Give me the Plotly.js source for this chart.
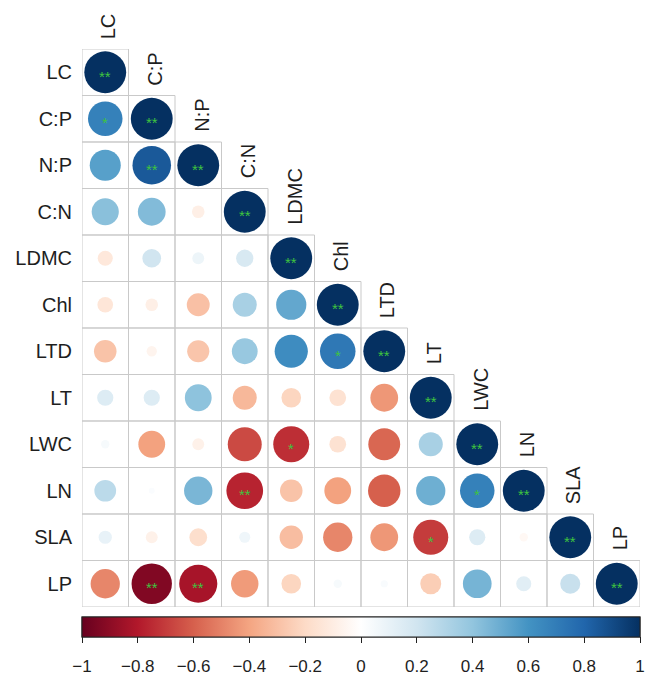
<!DOCTYPE html>
<html>
<head>
<meta charset="utf-8">
<script src="https://cdn.plot.ly/plotly-3.0.1.min.js"></script>
<style>
  html, body { margin: 0; padding: 0; background: #fff; }
  #chart { width: 646px; height: 675px; }
</style>
</head>
<body>
<div id="chart"></div>
<script>
// Leaf traits, lower triangle of the Pearson correlation matrix
const traits = ['LC', 'C:P', 'N:P', 'C:N', 'LDMC', 'Chl', 'LTD', 'LT', 'LWC', 'LN', 'SLA', 'LP'];

// r values, row by row (column 0 .. diagonal)
const rLC   = [1];
const rCP   = [0.68, 1];
const rNP   = [0.55, 0.85, 1];
const rCN   = [0.42, 0.44, -0.09, 1];
const rLDMC = [-0.13, 0.20, 0.08, 0.17, 1];
const rChl  = [-0.14, -0.09, -0.30, 0.33, 0.52, 1];
const rLTD  = [-0.29, -0.06, -0.28, 0.38, 0.63, 0.72, 1];
const rLT   = [0.15, 0.15, 0.41, -0.33, -0.22, -0.16, -0.44, 1];
const rLWC  = [0.04, -0.41, -0.08, -0.66, -0.74, -0.16, -0.58, 0.33, 1];
const rLN   = [0.27, 0.02, 0.46, -0.77, -0.29, -0.41, -0.60, 0.49, 0.68, 1];
const rSLA  = [0.10, -0.08, -0.18, 0.07, -0.31, -0.49, -0.44, -0.70, 0.15, -0.04, 1];
const rLP   = [-0.49, -0.93, -0.83, -0.43, -0.22, 0.04, 0.03, -0.25, 0.47, 0.13, 0.23, 1];

// significance marks (* p<0.05, ** p<0.01), same layout as the r rows
const sLC   = ['**'];
const sCP   = ['*', '**'];
const sNP   = ['', '**', '**'];
const sCN   = ['', '', '', '**'];
const sLDMC = ['', '', '', '', '**'];
const sChl  = ['', '', '', '', '', '**'];
const sLTD  = ['', '', '', '', '', '*', '**'];
const sLT   = ['', '', '', '', '', '', '', '**'];
const sLWC  = ['', '', '', '', '*', '', '', '', '**'];
const sLN   = ['', '', '', '**', '', '', '', '', '*', '**'];
const sSLA  = ['', '', '', '', '', '', '', '*', '', '', '**'];
const sLP   = ['', '**', '**', '', '', '', '', '', '', '', '', '**'];

const colorbarTicks = [-1, -0.8, -0.6, -0.4, -0.2, 0, 0.2, 0.4, 0.6, 0.8, 1];

const rRows = [rLC, rCP, rNP, rCN, rLDMC, rChl, rLTD, rLT, rLWC, rLN, rSLA, rLP];
const sRows = [sLC, sCP, sNP, sCN, sLDMC, sChl, sLTD, sLT, sLWC, sLN, sSLA, sLP];

// RdBu ramp (dark red -> white -> dark blue)
const rdbu = ['#67001F', '#B2182B', '#D6604D', '#F4A582', '#FDDBC7', '#FFFFFF',
              '#D1E5F0', '#92C5DE', '#4393C3', '#2166AC', '#053061'];
const colorscale = rdbu.map((c, k) => [k / (rdbu.length - 1), c]);

const W = 646, H = 675;
const M = { l: 82, r: 6, t: 49, b: 68, autoexpand: false };
const n = traits.length;
const cellPx = (W - M.l - M.r) / n;
const font = 'Arial, "Liberation Sans", sans-serif';
const ink = '#1e1e1e';

const xs = [], ys = [], rs = [], sizes = [];
const shapes = [], starNotes = [];
rRows.forEach((row, i) => {
  row.forEach((r, j) => {
    xs.push(j); ys.push(i); rs.push(r);
    // circle area proportional to |r|
    sizes.push(0.9 * cellPx * Math.sqrt(Math.abs(r)));
    if (sRows[i][j]) {
      // asterisks sit high in the line box, so nudge them down onto the centre
      starNotes.push({
        xref: 'x', yref: 'y', x: j, y: i, text: sRows[i][j], showarrow: false,
        xanchor: 'center', yanchor: 'middle', yshift: -4,
        font: { family: font, size: 15, color: '#3fc43f' }
      });
    }
    shapes.push({
      type: 'rect', xref: 'x', yref: 'y', layer: 'below',
      x0: j - 0.5, x1: j + 0.5, y0: i - 0.5, y1: i + 0.5,
      line: { color: '#c9c9c9', width: 1 }, fillcolor: 'rgba(0,0,0,0)'
    });
  });
});

// shared colour bar geometry
const barBase = {
  orientation: 'h', x: 0.5, xanchor: 'center', len: 1, lenmode: 'fraction',
  y: -0.018, yanchor: 'top', yref: 'paper', thickness: 20, xpad: 0, ypad: 0,
  outlinewidth: 1, outlinecolor: '#222', tickvals: colorbarTicks
};

const circles = {
  type: 'scatter', mode: 'markers', x: xs, y: ys, hoverinfo: 'skip',
  marker: {
    size: sizes, sizemode: 'diameter', color: rs, cmin: -1, cmax: 1, opacity: 1,
    colorscale: colorscale, line: { width: 0 },
    // short tick marks, no labels
    colorbar: Object.assign({}, barBase, {
      ticks: 'outside', ticklen: 6, tickwidth: 1, tickcolor: '#222',
      showticklabels: false
    })
  },
  showlegend: false
};

// second bar on the same spot carries the tick labels, set further down
const barLabels = {
  type: 'scatter', mode: 'markers', x: [null], y: [null], hoverinfo: 'skip',
  marker: {
    color: [0], cmin: -1, cmax: 1, colorscale: colorscale, opacity: 1,
    colorbar: Object.assign({}, barBase, {
      ticks: 'outside', ticklen: 15, tickcolor: 'rgba(0,0,0,0)',
      ticktext: colorbarTicks.map(v => v === 0 ? '0' : String(v).replace('-', '\u2212')),
      tickfont: { family: font, size: 17, color: ink }
    })
  },
  showlegend: false
};

const colLabels = traits.map((t, j) => ({
  xref: 'x', yref: 'y', x: j, y: j - 0.5, text: t, showarrow: false,
  textangle: -90, xanchor: 'center', yanchor: 'bottom', yshift: 8, xshift: 3,
  font: { family: font, size: 20, color: ink }
}));

const layout = {
  width: W, height: H, margin: M,
  paper_bgcolor: '#fff', plot_bgcolor: '#fff',
  xaxis: {
    range: [-0.5, n - 0.5], showgrid: false, zeroline: false,
    showticklabels: false, ticks: '', showline: false, fixedrange: true
  },
  yaxis: {
    range: [n - 0.5, -0.5], showgrid: false, zeroline: false,
    tickvals: traits.map((t, i) => i), ticktext: traits,
    ticks: '', ticklabelstandoff: 9, showline: false, fixedrange: true,
    automargin: false,
    tickfont: { family: font, size: 20, color: ink }
  },
  shapes: shapes,
  annotations: colLabels.concat(starNotes)
};

Plotly.newPlot('chart', [barLabels, circles], layout, { staticPlot: true, displayModeBar: false });
</script>
</body>
</html>
